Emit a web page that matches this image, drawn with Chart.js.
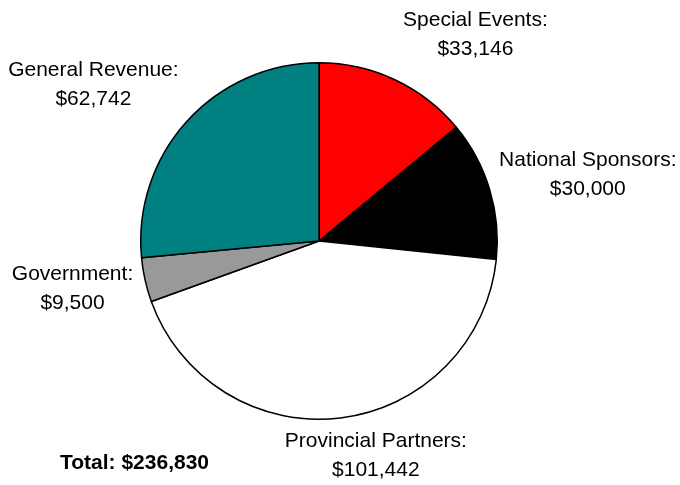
<!DOCTYPE html>
<html>
<head>
<meta charset="utf-8">
<script src="https://cdn.jsdelivr.net/npm/chart.js@4.4.1/dist/chart.umd.min.js"></script>
<style>
  html, body { margin: 0; padding: 0; background: #fff; }
  canvas { display: block; }
</style>
</head>
<body>
<canvas id="pie" width="680" height="485"></canvas>
<script>
const categories = ['Special Events', 'National Sponsors', 'Provincial Partners', 'Government', 'General Revenue'];
const amounts = [33146, 30000, 101442, 9500, 62742];
const sliceColors = ['#ff0000', '#000000', '#ffffff', '#999999', '#008080'];
const totalLabel = 'Total: $236,830';

// nudges for each outside label, from an anchor just past the rim
const labelNudge = [[72, -27], [79, -9], [33, 17], [-53, 4], [-79, -23]];

const money = v => '$' + v.toLocaleString('en-US');

const outsideLabels = {
    id: 'outsideLabels',
    afterDraw(chart) {
        const ctx = chart.ctx;
        const arcs = chart.getDatasetMeta(0).data;
        ctx.save();
        ctx.fillStyle = '#000';
        ctx.font = '21px "Liberation Sans", Arial, sans-serif';
        ctx.textAlign = 'center';
        ctx.textBaseline = 'middle';
        arcs.forEach((arc, i) => {
            const p = arc.getProps(['x', 'y', 'startAngle', 'endAngle', 'outerRadius'], true);
            const mid = (p.startAngle + p.endAngle) / 2;
            const r = p.outerRadius + 20;
            const x = p.x + Math.cos(mid) * r + labelNudge[i][0];
            const y = p.y + Math.sin(mid) * r + labelNudge[i][1];
            ctx.fillText(categories[i] + ':', x, y - 14);
            ctx.fillText(money(amounts[i]), x, y + 15);
        });
        ctx.font = 'bold 21px "Liberation Sans", Arial, sans-serif';
        ctx.textAlign = 'left';
        ctx.fillText(totalLabel, 60, 463);
        ctx.restore();
    }
};

new Chart(document.getElementById('pie').getContext('2d'), {
    type: 'pie',
    data: {
        labels: categories,
        datasets: [{
            data: amounts,
            backgroundColor: sliceColors,
            borderColor: '#000',
            borderWidth: 1.5
        }]
    },
    options: {
        responsive: false,
        animation: false,
        layout: { padding: { top: 62, bottom: 65, left: 0, right: 42 } },
        plugins: {
            legend: { display: false },
            tooltip: { enabled: false }
        }
    },
    plugins: [outsideLabels]
});
</script>
</body>
</html>
